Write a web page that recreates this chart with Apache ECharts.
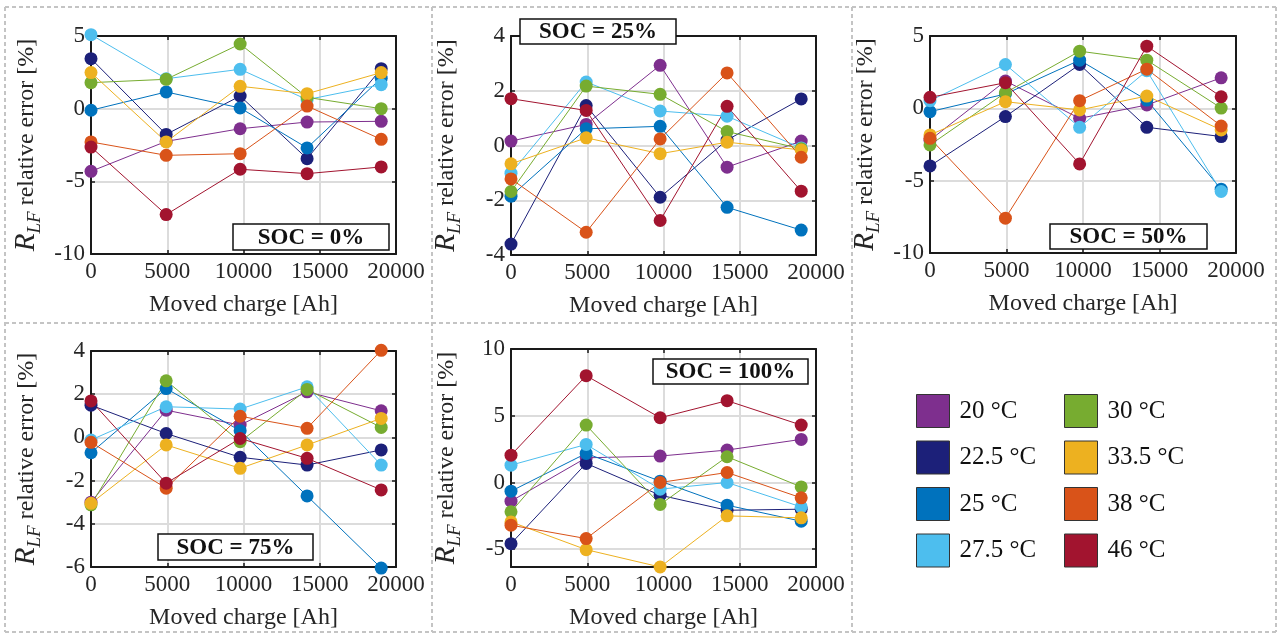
<!DOCTYPE html>
<html>
<head>
<meta charset="utf-8">
<script src="https://cdn.jsdelivr.net/npm/echarts@6/dist/echarts.min.js"></script>
<style>
html,body{margin:0;padding:0;background:#fff;}
#chart{width:1282px;height:635px;}
</style>
</head>
<body>
<div id="chart"></div>
<script>
// ---- data ----
const movedCharge = [0, 4930, 9780, 14170, 19030];
const tempLabels = ['20 °C', '22.5 °C', '25 °C', '27.5 °C', '30 °C', '33.5 °C', '38 °C', '46 °C'];
const tempColors = ['#7E2F8E', '#1C2079', '#0072BD', '#4DBEEE', '#77AC30', '#EDB120', '#D95319', '#A2142F'];
const socLabels = ['SOC = 0%', 'SOC = 25%', 'SOC = 50%', 'SOC = 75%', 'SOC = 100%'];

const soc0 = [
  [-4.31, -2.25, -1.38, -0.92, -0.87],
  [3.44, -1.77, 0.87, -3.44, 2.75],
  [-0.11, 1.15, 0.05, -2.7, 2.1],
  [5.09, 2.06, 2.71, 0.62, 1.65],
  [1.79, 2.02, 4.45, 0.78, 0.0],
  [2.48, -2.29, 1.54, 1.03, 2.48],
  [-2.29, -3.21, -3.1, 0.18, -2.11],
  [-2.64, -7.29, -4.17, -4.47, -4.01]
];
const soc25 = [
  [0.16, 0.77, 2.93, -0.79, 0.16],
  [-3.6, 1.46, -1.89, 0.2, 1.7],
  [-1.85, 0.61, 0.7, -2.26, -3.09],
  [-1.01, 2.32, 1.26, 1.07, -0.09],
  [-1.68, 2.17, 1.87, 0.51, -0.12],
  [-0.67, 0.28, -0.3, 0.12, -0.16],
  [-1.22, -3.17, 0.24, 2.65, -0.43],
  [1.71, 1.28, -2.74, 1.43, -1.67]
];
const soc50 = [
  [-2.2, 1.89, -0.69, 0.23, 2.11],
  [-3.98, -0.57, 3.03, -1.31, -1.95],
  [-0.23, 0.99, 3.33, 0.57, -5.59],
  [0.53, 3.03, -1.31, 2.6, -5.75],
  [-2.53, 1.08, 3.95, 3.33, 0.02],
  [-1.84, 0.46, -0.11, 0.85, -1.49],
  [-2.07, -7.59, 0.53, 2.71, -1.22],
  [0.76, 1.77, -3.84, 4.3, 0.8]
];
const soc75 = [
  [-3.0, 1.26, 0.57, 2.11, 1.23],
  [1.49, 0.18, -0.92, -1.28, -0.58],
  [-0.71, 2.26, 0.31, -2.71, -6.05],
  [-0.12, 1.42, 1.31, 2.34, -1.28],
  [-3.12, 2.62, -0.2, 2.22, 0.46],
  [-3.05, -0.35, -1.43, -0.35, 0.88],
  [-0.23, -2.35, 0.98, 0.42, 4.03],
  [1.69, -2.12, -0.05, -0.97, -2.43]
];
const soc100 = [
  [-1.4, 1.85, 1.98, 2.43, 3.23],
  [-4.58, 1.43, -0.95, -2.08, -2.0],
  [-0.65, 2.18, 0.1, -1.7, -2.9],
  [1.3, 2.85, -0.5, 0.0, -1.83],
  [-2.2, 4.3, -1.65, 1.93, -0.33],
  [-2.95, -5.03, -6.33, -2.5, -2.65],
  [-3.2, -4.2, 0.0, 0.75, -1.15],
  [2.05, 8.0, 4.85, 6.13, 4.3]
];
const yMins = [-10, -4, -10, -6, -6.33];
const yMaxs = [5, 4, 5, 4, 10];
const yIntervals = [5, 2, 5, 2, 5];

// ---- layout ----
const panels = [soc0, soc25, soc50, soc75, soc100];
const grids = [
  {left: 91, top: 36, width: 305, height: 218},
  {left: 511, top: 36, width: 305, height: 219},
  {left: 930, top: 36, width: 306, height: 217},
  {left: 91, top: 351, width: 305, height: 216},
  {left: 511, top: 349, width: 305, height: 218}
];
const labelBoxes = [
  {x: 233, y: 224, w: 156, h: 26},
  {x: 520, y: 19, w: 156, h: 25},
  {x: 1050, y: 224, w: 157, h: 25},
  {x: 158, y: 534, w: 155, h: 26},
  {x: 653, y: 359, w: 155, h: 25}
];

const FONT = 'Liberation Serif';
const TXT = '#262626';
const AX = '#1a1a1a';

const xAxes = [], yAxes = [], series = [];
panels.forEach((p, i) => {
  xAxes.push({
    gridIndex: i, type: 'value', min: 0, max: 20000, interval: 5000,
    axisLine: {show: true, onZero: false, lineStyle: {color: AX, width: 2}},
    axisTick: {show: true, inside: true, length: 4, lineStyle: {color: AX, width: 1.5}},
    axisLabel: {color: TXT, fontFamily: FONT, fontSize: 23, margin: 6, formatter: v => String(v)},
    splitLine: {show: true, lineStyle: {color: '#dcdcdc', width: 2}},
    name: 'Moved charge [Ah]', nameLocation: 'middle', nameGap: 39,
    nameTextStyle: {color: TXT, fontFamily: FONT, fontSize: 24}
  });
  xAxes.push({
    gridIndex: i, type: 'value', min: 0, max: 20000, interval: 5000, position: 'top',
    axisLine: {show: true, onZero: false, lineStyle: {color: AX, width: 2}},
    axisTick: {show: true, inside: true, length: 4, lineStyle: {color: AX, width: 1.5}},
    axisLabel: {show: false}, splitLine: {show: false}
  });
  const useInterval = Number.isInteger(yMins[i] / yIntervals[i]);
  const ya = {
    gridIndex: i, type: 'value', min: yMins[i], max: yMaxs[i],
    axisLine: {show: true, onZero: false, lineStyle: {color: AX, width: 2}},
    axisTick: {show: true, inside: true, length: 4, lineStyle: {color: AX, width: 1.5}},
    axisLabel: {
      color: TXT, fontFamily: FONT, fontSize: 23, margin: 6,
      formatter: v => (Math.abs(v / yIntervals[i] - Math.round(v / yIntervals[i])) < 1e-6 ? String(Math.round(v)) : '')
    },
    splitLine: {show: true, lineStyle: {color: '#dcdcdc', width: 2}},
    name: '{r|R}{s|LF}{n| relative error [%]}', nameLocation: 'middle', nameRotate: 90, nameGap: 47,
    nameTextStyle: {
      color: TXT, fontFamily: FONT, fontSize: 24,
      rich: {
        r: {fontFamily: FONT, fontStyle: 'italic', fontSize: 29, color: TXT},
        s: {fontFamily: FONT, fontStyle: 'italic', fontSize: 19, color: TXT, padding: [16, 0, 0, 0]},
        n: {fontFamily: FONT, fontSize: 24, color: TXT}
      }
    }
  };
  if (useInterval) ya.interval = yIntervals[i]; else ya.splitNumber = 3;
  yAxes.push(ya);
  const yb = {
    gridIndex: i, type: 'value', min: yMins[i], max: yMaxs[i], position: 'right',
    axisLine: {show: true, onZero: false, lineStyle: {color: AX, width: 2}},
    axisTick: {show: true, inside: true, length: 4, lineStyle: {color: AX, width: 1.5}},
    axisLabel: {show: false}, splitLine: {show: false}
  };
  if (useInterval) yb.interval = yIntervals[i]; else yb.splitNumber = 3;
  yAxes.push(yb);

  p.forEach((vals, t) => {
    series.push({
      type: 'line', name: tempLabels[t],
      xAxisIndex: i * 2, yAxisIndex: i * 2,
      data: movedCharge.map((x, k) => [x, vals[k]]),
      symbol: 'circle', symbolSize: 13, clip: false,
      lineStyle: {color: tempColors[t], width: 1},
      itemStyle: {color: tempColors[t]},
      emphasis: {disabled: true}, animation: false
    });
  });
});

// ---- graphics: dashed panel borders and SOC boxes ----
const dash = {stroke: '#c4c4c4', lineWidth: 2, lineDash: [4, 3]};
const graphics = [];
[[5, 7, 5, 632], [432, 7, 432, 632], [852, 7, 852, 632], [1276, 7, 1276, 632],
 [5, 7, 1276, 7], [5, 323, 1276, 323], [5, 632, 1276, 632]].forEach(l => {
  graphics.push({type: 'line', shape: {x1: l[0], y1: l[1], x2: l[2], y2: l[3]}, style: dash, silent: true, z: 0});
});
labelBoxes.forEach((b, i) => {
  graphics.push({type: 'rect', shape: {x: b.x, y: b.y, width: b.w, height: b.h},
    style: {fill: '#fff', stroke: '#111', lineWidth: 1.5}, z: 100});
  graphics.push({type: 'text', x: b.x + b.w / 2, y: b.y + b.h / 2 + 1,
    style: {text: socLabels[i], font: 'bold 23px "Liberation Serif"', fill: '#111', align: 'center', verticalAlign: 'middle'}, z: 101});
});

const legendBase = {
  orient: 'vertical', icon: 'rect', itemWidth: 33, itemHeight: 33, itemGap: 12.5,
  textStyle: {fontFamily: FONT, fontSize: 25, color: '#111', padding: [0, 0, 0, 5]},
  itemStyle: {borderColor: '#333', borderWidth: 1}, selectedMode: false
};

const chart = echarts.init(document.getElementById('chart'), null, {renderer: 'canvas'});
chart.setOption({
  backgroundColor: '#fff',
  animation: false,
  grid: grids,
  xAxis: xAxes,
  yAxis: yAxes,
  legend: [
    Object.assign({}, legendBase, {data: tempLabels.slice(0, 4), left: 911, top: 389}),
    Object.assign({}, legendBase, {data: tempLabels.slice(4), left: 1059, top: 389})
  ],
  graphic: graphics,
  series: series
});
</script>
</body>
</html>
